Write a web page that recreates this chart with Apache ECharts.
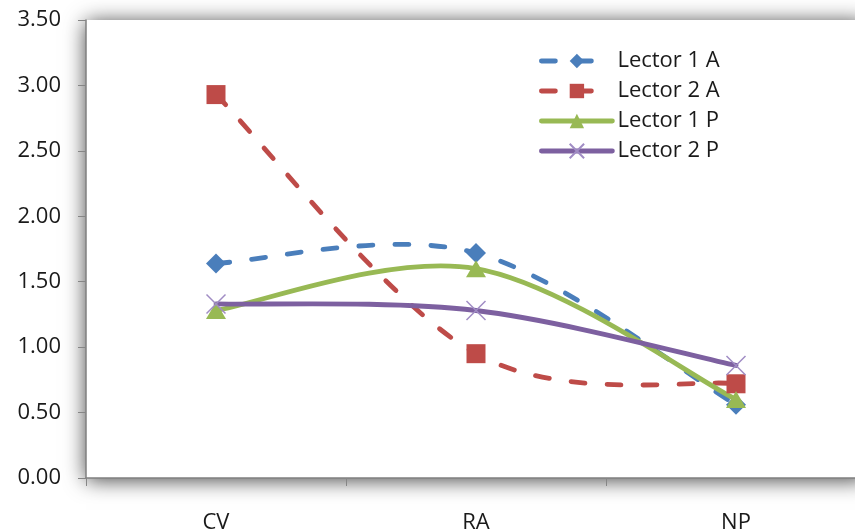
<!DOCTYPE html>
<html>
<head>
<meta charset="utf-8">
<script src="https://cdn.jsdelivr.net/npm/echarts@6/dist/echarts.min.js"></script>
<style>
  html, body { margin: 0; padding: 0; background: #ffffff; }
  #chart { width: 855px; height: 531px; }
</style>
</head>
<body>
<div id="chart"></div>
<script>
// Categories on the x axis
const categories = ['CV', 'RA', 'NP'];

// Series values
const lector1A = [1.64, 1.72, 0.56];
const lector2A = [2.93, 0.95, 0.72];
const lector1P = [1.28, 1.60, 0.60];
const lector2P = [1.33, 1.28, 0.86];

// Y axis range
const yMin = 0;
const yMax = 3.5;
const yStep = 0.5;

const FONT = '"Open Sans", sans-serif';
const crossPath = 'path://M0,0L10,10M10,0L0,10';
const LINE_W = 4.8;
const DASH = [14, 22];

const seriesDefs = [
  { name: 'Lector 1 A', data: lector1A, color: '#4A7EBB', dash: DASH, symbol: 'diamond', size: [20, 20] },
  { name: 'Lector 2 A', data: lector2A, color: '#BE4B48', dash: DASH, symbol: 'rect', size: 19 },
  { name: 'Lector 1 P', data: lector1P, color: '#98B954', dash: null, symbol: 'triangle', size: [20, 17] },
  { name: 'Lector 2 P', data: lector2P, color: '#7D60A0', dash: null, symbol: crossPath, size: 19 }
];

// Cardinal (Catmull-Rom, tension 1/6) bezier through the projected points
function smoothPath(pts) {
  const n = pts.length;
  let d = 'M' + pts[0][0] + ',' + pts[0][1];
  for (let i = 0; i < n - 1; i++) {
    const p0 = pts[Math.max(i - 1, 0)];
    const p1 = pts[i];
    const p2 = pts[i + 1];
    const p3 = pts[Math.min(i + 2, n - 1)];
    const c1x = p1[0] + (p2[0] - p0[0]) / 6;
    const c1y = p1[1] + (p2[1] - p0[1]) / 6;
    const c2x = p2[0] - (p3[0] - p1[0]) / 6;
    const c2y = p2[1] - (p3[1] - p1[1]) / 6;
    d += 'C' + c1x + ',' + c1y + ',' + c2x + ',' + c2y + ',' + p2[0] + ',' + p2[1];
  }
  return d;
}

// Smoothed connecting curve for one reader, drawn through the cartesian axes
function curveSeries(def, idx) {
  return {
    id: 'curve' + idx,
    name: 'curve' + idx,
    type: 'custom',
    coordinateSystem: 'cartesian2d',
    data: [[0, def.data[0]]],
    clip: false,
    silent: true,
    z: 2,
    renderItem: function (params, api) {
      const pts = def.data.map((v, i) => api.coord([i, v]));
      const style = {
        stroke: def.color, lineWidth: LINE_W, fill: 'none',
        lineCap: 'round', lineJoin: 'round'
      };
      if (def.dash) style.lineDash = def.dash;
      return { type: 'path', shape: { pathData: smoothPath(pts) }, style };
    }
  };
}

// Point markers (and legend entry) for one reader
function markerSeries(def) {
  const isCross = def.symbol === crossPath;
  return {
    name: def.name, type: 'line', data: def.data,
    symbol: def.symbol, symbolSize: def.size,
    lineStyle: { color: def.color, width: LINE_W, type: def.dash || 'solid', cap: 'round', opacity: 0 },
    itemStyle: isCross
      ? { color: 'rgba(0,0,0,0)', borderColor: '#A08CC4', borderWidth: 1.5 }
      : { color: def.color },
    z: 4
  };
}

const chart = echarts.init(document.getElementById('chart'), null, { renderer: 'canvas' });

const option = {
  backgroundColor: '#ffffff',
  animation: false,
  grid: {
    left: 86, top: 20, width: 780, height: 458,
    outerBoundsMode: 'none',
    containLabel: false,
    show: true,
    backgroundColor: '#ffffff',
    borderWidth: 0,
    shadowBlur: 20,
    shadowColor: 'rgba(0,0,0,0.75)',
    shadowOffsetX: 0,
    shadowOffsetY: 2
  },
  legend: {
    orient: 'vertical',
    left: 539, top: 50,
    padding: 0,
    itemWidth: 71, itemHeight: 18, itemGap: 8,
    textStyle: { fontFamily: FONT, fontSize: 22, color: '#1a1a1a', lineHeight: 22 },
    data: seriesDefs.map(def => ({
      name: def.name,
      lineStyle: { color: def.color, width: LINE_W, type: def.dash || 'solid', opacity: 1, cap: 'round' }
    }))
  },
  xAxis: {
    type: 'category',
    data: categories,
    boundaryGap: true,
    axisLine: { lineStyle: { color: '#808080', width: 1.5 } },
    axisTick: { show: true, length: 8, inside: false, lineStyle: { color: '#868686' } },
    axisLabel: { fontFamily: FONT, fontSize: 22, color: '#1a1a1a', margin: 34 },
    splitLine: { show: false }
  },
  yAxis: {
    type: 'value',
    min: yMin, max: yMax, interval: yStep,
    axisLine: { show: true, lineStyle: { color: '#808080', width: 1.5 } },
    axisTick: { show: true, length: 8, lineStyle: { color: '#868686' } },
    axisLabel: {
      fontFamily: FONT, fontSize: 22, color: '#1a1a1a', margin: 25,
      formatter: v => v.toFixed(2)
    },
    splitLine: { show: false }
  },
  series: seriesDefs.map(curveSeries).concat(seriesDefs.map(markerSeries))
};

chart.setOption(option);
</script>
</body>
</html>
